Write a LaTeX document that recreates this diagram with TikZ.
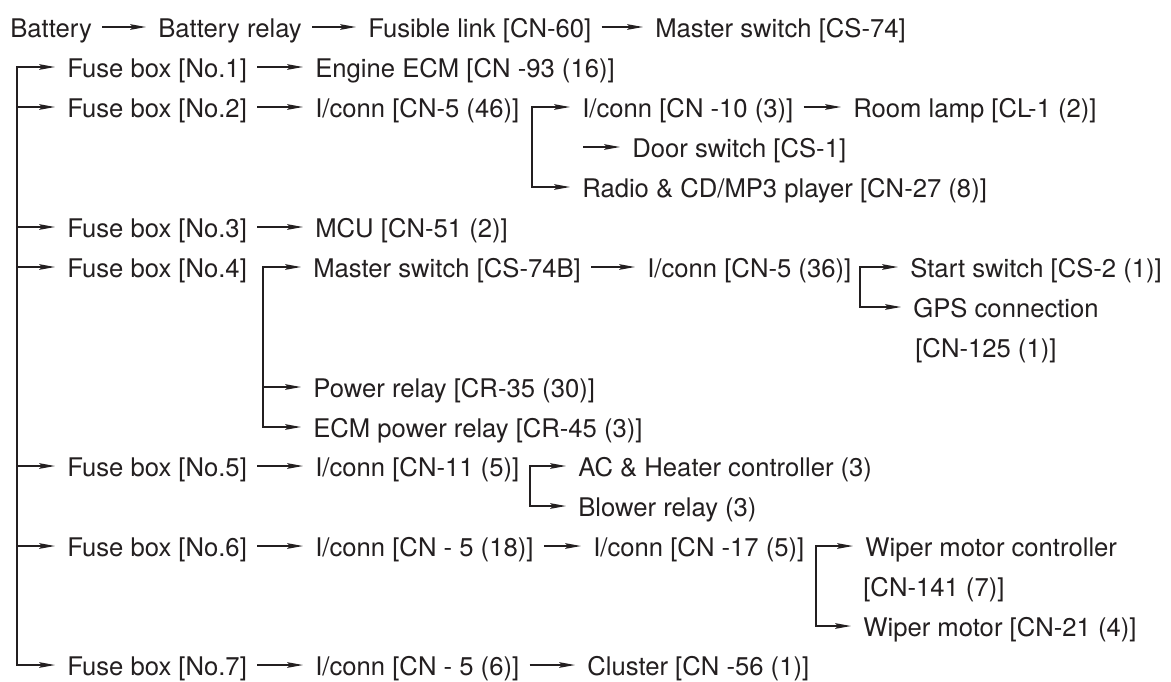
\documentclass[tikz,border=0pt]{standalone}
\usepackage{fontspec}
\setmainfont{TeX Gyre Heros}
\usetikzlibrary{arrows.meta,calc}
\definecolor{ink}{HTML}{231F20}

\begin{document}
\begin{tikzpicture}[x=0.02cm,y=-0.02cm,
    >={Stealth[length=9pt,width=3.2pt,inset=1.5pt]},
    lbl/.style={anchor=west,inner sep=0pt,text height=11.7pt,text depth=0pt,
      text=ink,font=\fontsize{14.6}{17.5}\selectfont},
    arr/.style={->,ink,line width=0.7pt,shorten >=0.24cm},
    gap/.style={shorten <=0.2cm}]
  \useasboundingbox (0,0) rectangle (1171,681);
  % supply chain
  \node[lbl] (bat) at (10,27) {Battery};
  \node[lbl] (batrelay) at (158,27) {Battery relay};
  \node[lbl] (fusible) at (368,27) {Fusible link [CN-60]};
  \node[lbl] (mswitch) at (655,27) {Master switch [CS-74]};
  \draw[arr,gap] (bat) -- (batrelay);
  \draw[arr,gap] (batrelay) -- (fusible);
  \draw[arr,gap] (fusible) -- (mswitch);
  % fuse boxes
  \node[lbl] (fb1) at (67,67) {Fuse box [No.1]};
  \node[lbl] (fb2) at (67,107) {Fuse box [No.2]};
  \node[lbl] (fb3) at (67,227) {Fuse box [No.3]};
  \node[lbl] (fb4) at (67,267) {Fuse box [No.4]};
  \node[lbl] (fb5) at (67,466) {Fuse box [No.5]};
  \node[lbl] (fb6) at (67,546) {Fuse box [No.6]};
  \node[lbl] (fb7) at (67,665) {Fuse box [No.7]};
  \coordinate (trunk) at (17,0);
  \draw[arr] (trunk |- fb7) |- (fb1);
  \draw[arr] (trunk |- fb1) |- (fb7);
  \foreach \i in {2,...,6}
    \draw[arr] (trunk |- fb\i) -- (fb\i);
  % No.1
  \node[lbl] (ecm) at (315,67) {Engine ECM [CN -93 (16)]};
  \draw[arr,gap] (fb1) -- (ecm);
  % No.2
  \node[lbl] (ic46) at (315,107) {I/conn [CN-5 (46)]};
  \node[lbl] (ic10) at (582,107) {I/conn [CN -10 (3)]};
  \node[lbl] (lamp) at (853,107) {Room lamp [CL-1 (2)]};
  \node[lbl] (door) at (632,147) {Door switch [CS-1]};
  \node[lbl] (radio) at (582,187) {Radio \& CD/MP3 player [CN-27 (8)]};
  \coordinate (b46) at (532,107);
  \coordinate (d0) at (583,147);
  \draw[arr,gap] (fb2) -- (ic46);
  \draw[arr] (b46 |- radio) |- (ic10);
  \draw[arr] (b46) |- (radio);
  \draw[arr,gap] (ic10) -- (lamp);
  \draw[arr] (d0) -- (door);
  % No.3
  \node[lbl] (mcu) at (315,227) {MCU [CN-51 (2)]};
  \draw[arr,gap] (fb3) -- (mcu);
  % No.4
  \node[lbl] (ms74b) at (313,267) {Master switch [CS-74B]};
  \node[lbl] (ic36) at (647,267) {I/conn [CN-5 (36)]};
  \node[lbl] (start) at (910,267) {Start switch [CS-2 (1)]};
  \node[lbl] (gps) at (913,307) {GPS connection};
  \node[lbl] (gpsno) at (915,347) {[CN-125 (1)]};
  \node[lbl] (prelay) at (313,387) {Power relay [CR-35 (30)]};
  \node[lbl] (ecmrelay) at (313,427) {ECM power relay [CR-45 (3)]};
  \coordinate (b4) at (263,267);
  \coordinate (b36) at (860,267);
  \draw[arr] (b4 |- ecmrelay) |- (ms74b);
  \draw[arr] (b4) |- (prelay);
  \draw[arr] (b4) |- (ecmrelay);
  \draw[arr,gap] (ms74b) -- (ic36);
  \draw[arr] (b36 |- gps) |- (start);
  \draw[arr] (b36) |- (gps);
  % No.5
  \node[lbl] (ic11) at (315,466) {I/conn [CN-11 (5)]};
  \node[lbl] (ac) at (578,466) {AC \& Heater controller (3)};
  \node[lbl] (blower) at (578,506) {Blower relay (3)};
  \coordinate (b11) at (530,466);
  \draw[arr,gap] (fb5) -- (ic11);
  \draw[arr] (b11 |- blower) |- (ac);
  \draw[arr] (b11) |- (blower);
  % No.6
  \node[lbl] (ic18) at (315,546) {I/conn [CN - 5 (18)]};
  \node[lbl] (ic17) at (593,546) {I/conn [CN -17 (5)]};
  \node[lbl] (wipctl) at (865,546) {Wiper motor controller};
  \node[lbl] (wipctlno) at (863,586) {[CN-141 (7)]};
  \node[lbl] (wiper) at (863,626) {Wiper motor [CN-21 (4)]};
  \coordinate (b17) at (816,546);
  \draw[arr,gap] (fb6) -- (ic18);
  \draw[arr,gap] (ic18) -- (ic17);
  \draw[arr] (b17 |- wiper) |- (wipctl);
  \draw[arr] (b17) |- (wiper);
  % No.7
  \node[lbl] (ic6) at (315,665) {I/conn [CN - 5 (6)]};
  \node[lbl] (cluster) at (587,665) {Cluster [CN -56 (1)]};
  \draw[arr,gap] (fb7) -- (ic6);
  \draw[arr,gap] (ic6) -- (cluster);
\end{tikzpicture}
\end{document}
